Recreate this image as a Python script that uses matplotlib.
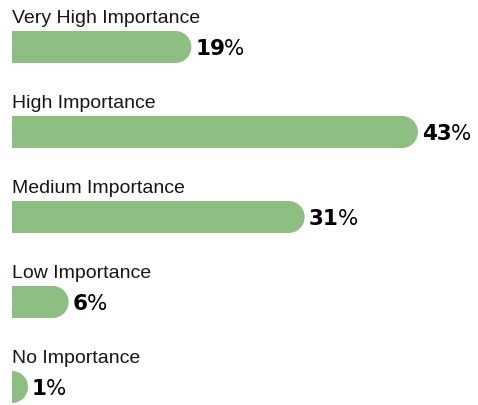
import matplotlib
matplotlib.use('Agg')
import matplotlib.pyplot as plt
from matplotlib.patches import Polygon
import numpy as np

categories = ['Very High Importance', 'High Importance', 'Medium Importance',
              'Low Importance', 'No Importance']
percents = [19, 43, 31, 6, 1]

BAR_COLOR = '#8ebf82'
TEXT_COLOR = '#161616'

W, H, DPI = 478, 405, 100
LEFT_PX = 12          # where 0% sits
PX_PER_PCT = 9.44     # horizontal scale
ROW_PX = 85           # distance between rows
FIRST_ROW_PX = 47     # centre of first bar
BAR_PX = 32           # bar thickness


def rounded_bar(ax, y, value, height, rx, ry):
    # square left end, half-round right end
    straight = max(value - rx, 0)
    theta = np.linspace(-np.pi / 2, np.pi / 2, 40)
    arc_x = straight + rx * np.cos(theta)
    arc_y = y + ry * np.sin(theta)
    xs = np.concatenate([[0, straight], arc_x, [straight, 0]])
    ys = np.concatenate([[y - height / 2, y - height / 2], arc_y,
                         [y + height / 2, y + height / 2]])
    ax.add_patch(Polygon(np.column_stack([xs, ys]), closed=True,
                         facecolor=BAR_COLOR, edgecolor='none'))
    return straight + rx


def main():
    fig = plt.figure(figsize=(W / DPI, H / DPI), dpi=DPI)
    ax = fig.add_axes([0, 0, 1, 1])
    ax.set_xlim(-LEFT_PX / PX_PER_PCT, (W - LEFT_PX) / PX_PER_PCT)
    ax.set_ylim((H - FIRST_ROW_PX) / ROW_PX, -FIRST_ROW_PX / ROW_PX)
    ax.axis('off')

    height = BAR_PX / ROW_PX
    rx = (BAR_PX / 2) / PX_PER_PCT
    ry = (BAR_PX / 2) / ROW_PX

    for i, (cat, pct) in enumerate(zip(categories, percents)):
        end = rounded_bar(ax, i, pct, height, rx, ry)

        ax.annotate(cat, xy=(0, i), xytext=(0, 24), textcoords='offset pixels',
                    ha='left', va='baseline', fontsize=14, color=TEXT_COLOR,
                    family='Liberation Sans')

        num = ax.annotate(str(pct), xy=(end, i), xytext=(4, -8),
                          textcoords='offset pixels', ha='left', va='baseline',
                          fontsize=15.5, fontweight='bold', color='black',
                          family='DejaVu Sans')
        ax.annotate('%', xy=(1, 0), xycoords=num, xytext=(-1, 0),
                    textcoords='offset pixels', ha='left', va='bottom',
                    fontsize=15.5, color='black', family='DejaVu Sans')

    fig.savefig('out.png', dpi=DPI, facecolor='white')


if __name__ == '__main__':
    main()
